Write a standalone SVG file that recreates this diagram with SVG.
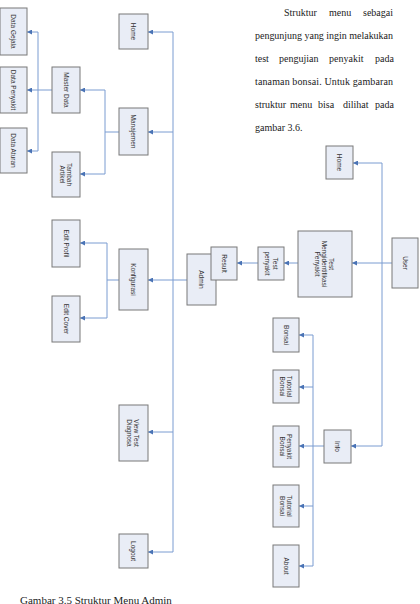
<svg xmlns="http://www.w3.org/2000/svg" width="420" height="604" viewBox="0 0 420 604">
<style>
.box{fill:#e9edf6;stroke:#787878;stroke-width:1}
.lbl{font-family:"Liberation Sans",Arial,sans-serif;font-size:6.5px;fill:#333;text-anchor:middle;dominant-baseline:central}
.con{fill:none;stroke:#7b9cd1;stroke-width:1}
.arr{fill:none;stroke:#7b9cd1;stroke-width:1;marker-end:url(#ah)}
.para{font-family:"Liberation Serif","Times New Roman",serif;font-size:10px;fill:#222}
</style>
<defs>
<marker id="ah" markerUnits="userSpaceOnUse" markerWidth="5" markerHeight="5" refX="5" refY="2.5" orient="auto">
<path d="M0,0 L5,2.5 L0,5 z" fill="#4a73b5"/>
</marker>
</defs>
<rect width="420" height="604" fill="#ffffff"/>

<g id="paragraph" class="para">
<text y="16"><tspan x="284">Struktur</tspan><tspan x="329">menu</tspan><tspan x="363">sebagai</tspan></text>
<text x="255" y="39" textLength="138" lengthAdjust="spacing">pengunjung yang ingin melakukan</text>
<text y="62"><tspan x="255">test</tspan><tspan x="279">pengujian</tspan><tspan x="329">penyakit</tspan><tspan x="375">pada</tspan></text>
<text x="255" y="85" textLength="138" lengthAdjust="spacing">tanaman bonsai. Untuk gambaran</text>
<text y="108"><tspan x="255">struktur</tspan><tspan x="290">menu</tspan><tspan x="318">bisa</tspan><tspan x="343">dilihat</tspan><tspan x="375">pada</tspan></text>
<text x="255" y="131">gambar 3.6.</text>
</g>

<g id="connectors">
<path class="con" d="M187,280 H173 M173,32 V552"/>
<path class="arr" d="M173,32 H148"/>
<path class="arr" d="M173,132 H148"/>
<path class="arr" d="M173,280 H148"/>
<path class="arr" d="M173,432 H148"/>
<path class="arr" d="M173,552 H148"/>
<path class="con" d="M119,132 H105 M105,90 V174"/>
<path class="arr" d="M105,90 H80"/>
<path class="arr" d="M105,174 H80"/>
<path class="con" d="M52,90 H38 M38,32 V151"/>
<path class="arr" d="M38,32 H27"/>
<path class="arr" d="M38,90 H27"/>
<path class="arr" d="M38,151 H27"/>
<path class="con" d="M119,280 H107 M107,243 V318"/>
<path class="arr" d="M107,243 H80"/>
<path class="arr" d="M107,318 H80"/>
<path class="arr" d="M258,263 H237"/>
<path class="arr" d="M298,263 H284"/>
<path class="arr" d="M392,263 H352"/>
<path class="con" d="M382,163 V446"/>
<path class="arr" d="M382,163 H353"/>
<path class="arr" d="M382,446 H351"/>
<path class="con" d="M324,446 H313 M313,335 V566"/>
<path class="arr" d="M313,335 H299"/>
<path class="arr" d="M313,387 H299"/>
<path class="arr" d="M313,446 H299"/>
<path class="arr" d="M313,506 H299"/>
<path class="arr" d="M313,566 H299"/>
</g>

<g id="data-gejala"><rect class="box" x="0" y="8" width="27" height="47"/><text class="lbl" transform="translate(13.5,31.5) rotate(90)">Data Gejala</text></g>
<g id="data-penyakit"><rect class="box" x="0" y="67" width="27" height="46"/><text class="lbl" transform="translate(13.5,90) rotate(90)">Data Penyakit</text></g>
<g id="data-aturan"><rect class="box" x="0" y="128" width="27" height="45"/><text class="lbl" transform="translate(13.5,150.5) rotate(90)">Data Aturan</text></g>
<g id="master-data"><rect class="box" x="52" y="67" width="28" height="46"/><text class="lbl" transform="translate(66,90) rotate(90)">Master Data</text></g>
<g id="tambah-artikel"><rect class="box" x="52" y="152" width="28" height="45"/><text class="lbl" transform="translate(66,174.5) rotate(90)"><tspan x="0" y="-3.5">Tambah</tspan><tspan x="0" y="3.5">Artikel</tspan></text></g>
<g id="home-admin"><rect class="box" x="119" y="14" width="29" height="35"/><text class="lbl" transform="translate(133.5,31.5) rotate(90)">Home</text></g>
<g id="manajemen"><rect class="box" x="119" y="108" width="29" height="47"/><text class="lbl" transform="translate(133.5,131.5) rotate(90)">Manajemen</text></g>
<g id="edit-profil"><rect class="box" x="52" y="220" width="28" height="47"/><text class="lbl" transform="translate(66,243.5) rotate(90)">Edit Profil</text></g>
<g id="edit-cover"><rect class="box" x="52" y="296" width="28" height="46"/><text class="lbl" transform="translate(66,319) rotate(90)">Edit Cover</text></g>
<g id="konfigurasi"><rect class="box" x="119" y="249" width="29" height="61"/><text class="lbl" transform="translate(133.5,279.5) rotate(90)">Konfigurasi</text></g>
<g id="view-test-diagnosa"><rect class="box" x="119" y="405" width="29" height="56"/><text class="lbl" transform="translate(133.5,433) rotate(90)"><tspan x="0" y="-3.5">View Test</tspan><tspan x="0" y="3.5">Diagnosa</tspan></text></g>
<g id="logout"><rect class="box" x="119" y="534" width="29" height="34"/><text class="lbl" transform="translate(133.5,551) rotate(90)">Logout</text></g>
<g id="admin"><rect class="box" x="187" y="254" width="29" height="51"/><text class="lbl" transform="translate(201.5,279.5) rotate(90)">Admin</text></g>
<g id="result"><rect class="box" x="211" y="247" width="26" height="33"/><text class="lbl" transform="translate(224,263.5) rotate(90)">Result</text></g>
<g id="test-penyakit"><rect class="box" x="258" y="247" width="26" height="33"/><text class="lbl" transform="translate(271,263.5) rotate(90)"><tspan x="0" y="-4.5">Test</tspan><tspan x="0" y="3.5">penyakit</tspan></text></g>
<g id="test-mengidentifikasi"><rect class="box" x="298" y="231" width="54" height="66"/><text class="lbl" transform="translate(325,264) rotate(90)"><tspan x="0" y="-7">Test</tspan><tspan x="0" y="0">Mengidentifikasi</tspan><tspan x="0" y="7">Penyakit</tspan></text></g>
<g id="user"><rect class="box" x="392" y="238" width="26" height="50"/><text class="lbl" transform="translate(405,263) rotate(90)">User</text></g>
<g id="home-user"><rect class="box" x="326" y="146" width="27" height="33"/><text class="lbl" transform="translate(339.5,162.5) rotate(90)">Home</text></g>
<g id="info"><rect class="box" x="324" y="430" width="27" height="33"/><text class="lbl" transform="translate(337.5,446.5) rotate(90)">Info</text></g>
<g id="bonsai"><rect class="box" x="273" y="318" width="26" height="34"/><text class="lbl" transform="translate(286,335) rotate(90)">Bonsai</text></g>
<g id="tutorial-bonsai-1"><rect class="box" x="273" y="370" width="26" height="33"/><text class="lbl" transform="translate(286,386.5) rotate(90)"><tspan x="0" y="-3.5">Tutorial</tspan><tspan x="0" y="3.5">Bonsai</tspan></text></g>
<g id="penyakit-bonsai"><rect class="box" x="273" y="426" width="26" height="41"/><text class="lbl" transform="translate(286,446.5) rotate(90)"><tspan x="0" y="-3.5">Penyakit</tspan><tspan x="0" y="3.5">Bonsai</tspan></text></g>
<g id="tutorial-bonsai-2"><rect class="box" x="273" y="485" width="26" height="42"/><text class="lbl" transform="translate(286,506) rotate(90)"><tspan x="0" y="-3.5">Tutorial</tspan><tspan x="0" y="3.5">Bonsai</tspan></text></g>
<g id="about"><rect class="box" x="273" y="545" width="26" height="42"/><text class="lbl" transform="translate(286,566) rotate(90)">About</text></g>

<text x="20" y="604" font-family="'Liberation Serif','Times New Roman',serif" font-size="11" fill="#222">Gambar 3.5 Struktur Menu Admin</text>
</svg>
